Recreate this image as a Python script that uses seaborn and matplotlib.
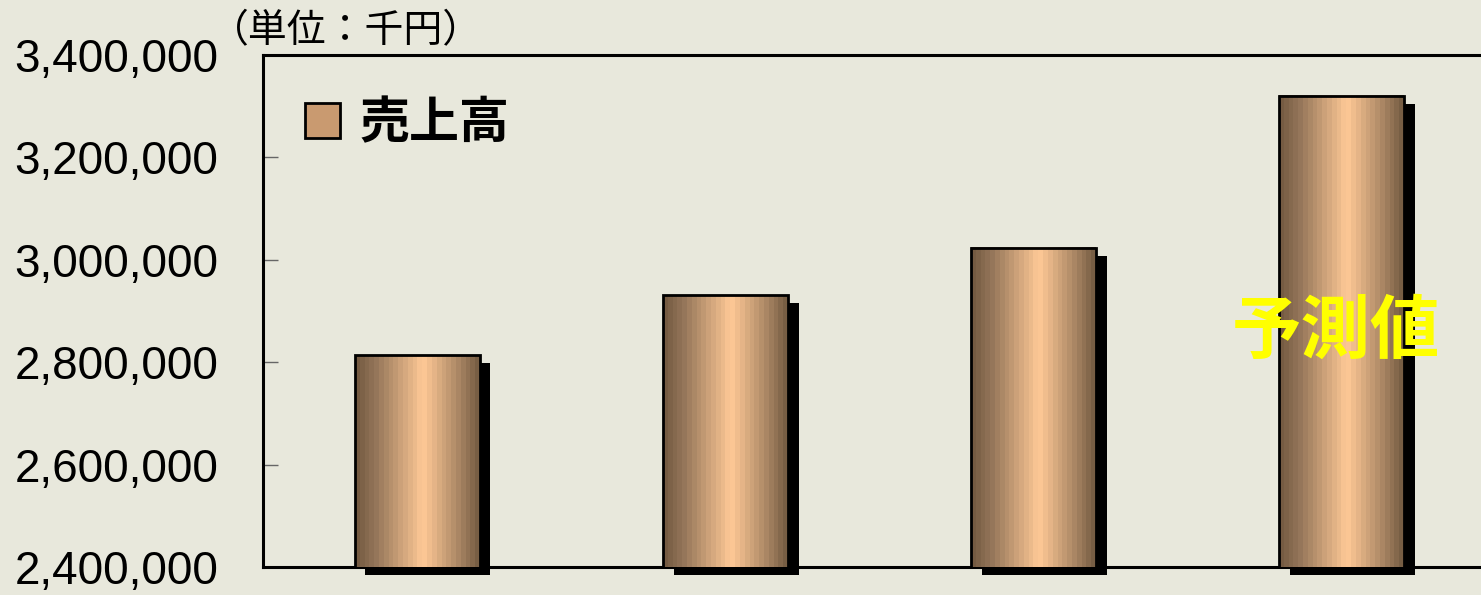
import numpy as np
import matplotlib
matplotlib.use("Agg")
import matplotlib.pyplot as plt
from matplotlib.colors import LinearSegmentedColormap
from matplotlib.patches import Patch
from matplotlib.ticker import FuncFormatter
import seaborn as sns

# data
periods = ["第1期", "第2期", "第3期", "第4期"]
sales = [2814000, 2931000, 3024000, 3320000]
series_name = "売上高"
forecast_label = "予測値"
unit_label = "（単位：千円）"
y_ticks = [2400000, 2600000, 2800000, 3000000, 3200000, 3400000]

bg = "#e8e8dc"

sns.set_theme(style="white")
plt.rcParams["font.family"] = ["Liberation Sans", "Noto Sans CJK JP", "DejaVu Sans"]
plt.rcParams["text.color"] = "black"

fig = plt.figure(figsize=(14.81, 5.95), dpi=100)
fig.patch.set_facecolor(bg)
ax = fig.add_axes([263 / 1481, 1 - 567 / 595, 1233 / 1481, 512 / 595])
ax.set_facecolor("none")

sns.barplot(
    x=periods,
    y=sales,
    width=0.405,
    color="#d9a87c",
    edgecolor="black",
    linewidth=2,
    ax=ax,
    zorder=4
)

y_min, y_max = y_ticks[0], y_ticks[-1]

# cylinder shading
cyl = LinearSegmentedColormap.from_list(
    "cyl",
    [(0.0, (0.46, 0.36, 0.26)),
     (0.15, (0.58, 0.46, 0.35)),
     (0.55, (1.0, 0.79, 0.59)),
     (0.85, (0.66, 0.52, 0.39)),
     (1.0, (0.47, 0.37, 0.27))]
)
grad = np.linspace(0, 1, 26).reshape(1, -1)

shadow_dx = 0.035
shadow_dy = (y_max - y_min) * 8 / 510

for bar in ax.patches:
    x0 = bar.get_x()
    w = bar.get_width()
    h = bar.get_height()
    ax.imshow(
        grad,
        extent=[x0, x0 + w, y_min, h],
        aspect="auto",
        cmap=cyl,
        interpolation="nearest",
        zorder=3.5
    )
    bar.set_facecolor("none")
    ax.bar(
        x0 + w / 2 + shadow_dx,
        h - y_min,
        width=w,
        bottom=y_min - shadow_dy,
        color="black",
        linewidth=0,
        zorder=2,
        clip_on=False
    )

ax.set_xlim(-0.5, 3.5)
ax.set_ylim(y_min, y_max)
ax.set_yticks(y_ticks)
ax.yaxis.set_major_formatter(FuncFormatter(lambda v, p: f"{int(v):,}"))
ax.set_xticks([])
ax.set_xlabel("")
ax.set_ylabel("")

ax.tick_params(
    axis="y",
    direction="in",
    length=11,
    width=1,
    color="#666666",
    pad=32,
    labelsize=33,
    labelcolor="black"
)
ax.yaxis.set_ticks_position("left")

for side in ["left", "top", "bottom", "right"]:
    ax.spines[side].set_visible(True)
    ax.spines[side].set_color("black")
    ax.spines[side].set_linewidth(2.2)

leg = ax.legend(
    handles=[Patch(facecolor="#c99a70", edgecolor="black", linewidth=2)],
    labels=[series_name],
    loc="upper left",
    bbox_to_anchor=(0.034, (567 - 98) / 512),
    borderpad=0,
    borderaxespad=0,
    frameon=False,
    handlelength=0.7,
    handleheight=0.7,
    handletextpad=0.4,
    prop={"family": ["Noto Sans CJK JP"], "weight": "bold", "size": 36}
)
for t in leg.get_texts():
    t.set_color("black")

ax.text(
    2.98,
    2858000,
    forecast_label,
    ha="center",
    va="center",
    color="#ffff00",
    fontsize=50,
    fontweight="bold",
    family=["Noto Sans CJK JP"],
    zorder=6
)

fig.text(
    210 / 1481,
    1 - 31 / 595,
    unit_label,
    ha="left",
    va="center",
    fontsize=28,
    family=["Noto Sans CJK JP"],
    color="black"
)

plt.savefig("out.png", dpi=100, facecolor=bg)
plt.close()
